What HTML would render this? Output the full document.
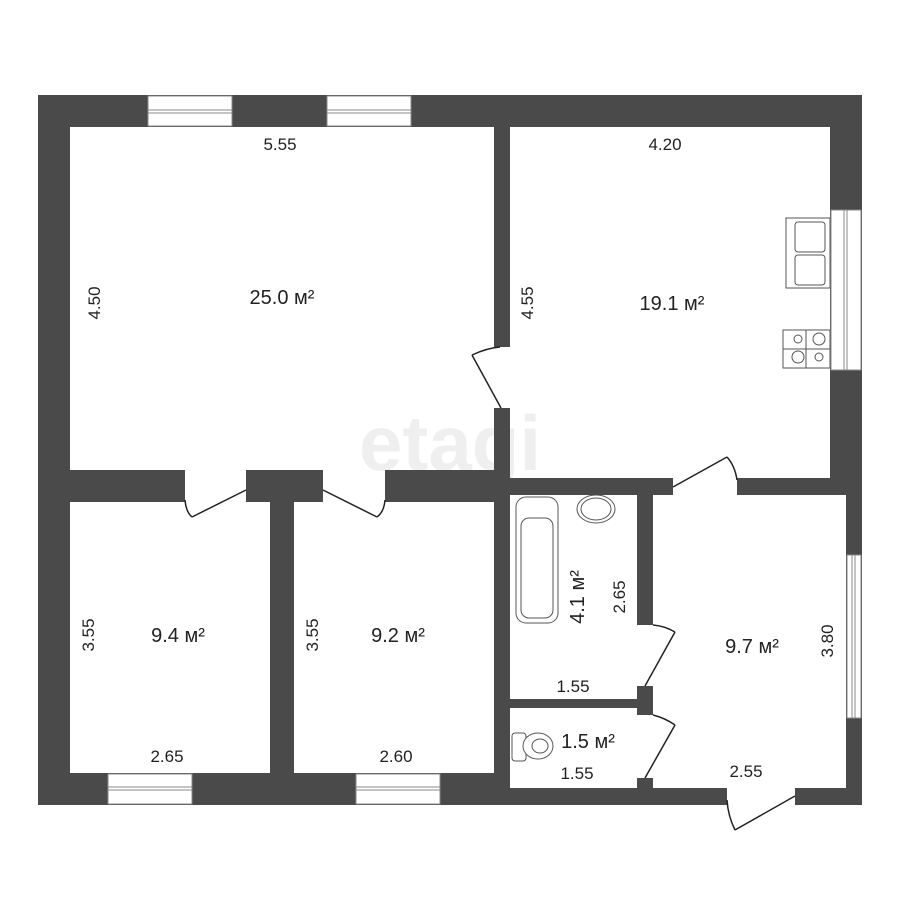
<!DOCTYPE html>
<html><head><meta charset="utf-8"><style>
html,body{margin:0;padding:0;background:#fff}
svg{display:block}
text{font-family:"Liberation Sans Narrow","Liberation Sans",sans-serif;fill:#222}
</style></head><body>
<svg width="900" height="900" viewBox="0 0 900 900" xmlns="http://www.w3.org/2000/svg">
<rect width="900" height="900" fill="#fff"/>
<text x="450" y="470" font-size="78" font-weight="bold" fill="#eeeeee" style="fill:#efefef" text-anchor="middle" font-family="Liberation Sans">etagi</text>
<g fill="#4a4a4a">
<!-- outer top -->
<rect x="38" y="95" width="824" height="32"/>
<!-- left -->
<rect x="38" y="95" width="32" height="710"/>
<!-- bottom left part -->
<rect x="38" y="773" width="472" height="32"/>
<!-- bottom right part -->
<rect x="494" y="788" width="233" height="17"/>
<rect x="795" y="788" width="67" height="17"/>
<!-- right upper -->
<rect x="830" y="95" width="32" height="400"/>
<!-- right lower -->
<rect x="846" y="478" width="16" height="327"/>
<!-- middle horizontal wall (25 room bottom) -->
<rect x="70" y="470" width="115" height="32"/>
<rect x="246" y="470" width="77" height="32"/>
<rect x="385" y="470" width="125" height="32"/>
<!-- kitchen bottom -->
<rect x="494" y="478" width="179" height="17"/>
<rect x="737" y="478" width="125" height="17"/>
<!-- partition 25/19.1 -->
<rect x="494" y="127" width="16" height="220"/>
<rect x="494" y="408" width="16" height="80"/>
<!-- wall between bedrooms -->
<rect x="270" y="490" width="24" height="300"/>
<!-- bath left wall -->
<rect x="494" y="478" width="16" height="320"/>
<!-- bath/hall wall -->
<rect x="637" y="478" width="16" height="147"/>
<rect x="637" y="686" width="16" height="29"/>
<rect x="637" y="778" width="16" height="20"/>
<!-- bath/wc wall -->
<rect x="510" y="699" width="130" height="9"/>
</g>
<!-- windows -->
<g fill="#fff" stroke="#888" stroke-width="1">
<rect x="148" y="96" width="84" height="30"/>
<rect x="327" y="96" width="84" height="30"/>
<rect x="108" y="774" width="84" height="30"/>
<rect x="356" y="774" width="84" height="30"/>
<rect x="831" y="210" width="30" height="160"/>
<rect x="847" y="555" width="14" height="163"/>
</g>
<g stroke="#888" stroke-width="1" fill="none">
<line x1="148" y1="110" x2="232" y2="110"/><line x1="148" y1="113" x2="232" y2="113"/>
<line x1="327" y1="110" x2="411" y2="110"/><line x1="327" y1="113" x2="411" y2="113"/>
<line x1="108" y1="787" x2="192" y2="787"/><line x1="108" y1="790" x2="192" y2="790"/>
<line x1="356" y1="787" x2="440" y2="787"/><line x1="356" y1="790" x2="440" y2="790"/>
<line x1="844" y1="210" x2="844" y2="370"/><line x1="847" y1="210" x2="847" y2="370"/>
<line x1="852" y1="555" x2="852" y2="718"/><line x1="855" y1="555" x2="855" y2="718"/>
</g>
<!-- doors -->
<g stroke="#222" stroke-width="1.5" fill="none">
<path d="M246 490 L192 517"/><path d="M185 500 Q186 512 192 517"/>
<path d="M323 490 L377 517"/><path d="M385 500 Q384 512 377 517"/>
<path d="M501 408 L472 355"/><path d="M472 355 Q487 348 500 347"/>
<path d="M673 487 L727 457"/><path d="M727 457 Q735 466 737 480"/>
<path d="M645 686 L675 632"/><path d="M675 632 Q665 626 653 625"/>
<path d="M645 778 L675 725"/><path d="M675 725 Q665 718 653 715"/>
<path d="M795 796 L735 830"/><path d="M735 830 Q728 816 727 800"/>
</g>
<!-- fixtures -->
<g stroke="#555" stroke-width="1" fill="#fff">
<rect x="516" y="497" width="42" height="126" rx="10"/>
<rect x="521" y="518" width="32" height="100" rx="8"/>
<ellipse cx="596" cy="509" rx="19" ry="14"/>
<ellipse cx="596" cy="509" rx="15" ry="11"/>
<rect x="512" y="733" width="14" height="28" rx="3"/>
<ellipse cx="538" cy="746" rx="15" ry="13"/>
<ellipse cx="540" cy="746" rx="8" ry="7"/>
<rect x="786" y="218" width="44" height="70"/>
<rect x="795" y="222" width="30" height="30" rx="3"/>
<rect x="795" y="255" width="30" height="30" rx="3"/>
<rect x="783" y="330" width="47" height="38"/>
<line x1="806" y1="330" x2="806" y2="368"/><line x1="783" y1="349" x2="830" y2="349"/>
<circle cx="798" cy="339" r="4"/><circle cx="819" cy="339" r="6"/>
<circle cx="798" cy="357" r="6"/><circle cx="819" cy="357" r="4"/>
</g>
<!-- labels -->
<g font-size="17">
<text x="280" y="150" text-anchor="middle">5.55</text>
<text x="665" y="150" text-anchor="middle">4.20</text>
<text x="282" y="304" text-anchor="middle" font-size="20">25.0 м²</text>
<text x="672" y="310" text-anchor="middle" font-size="20">19.1 м²</text>
<text x="178" y="642" text-anchor="middle" font-size="20">9.4 м²</text>
<text x="398" y="642" text-anchor="middle" font-size="20">9.2 м²</text>
<text x="752" y="653" text-anchor="middle" font-size="20">9.7 м²</text>
<text x="588" y="748" text-anchor="middle" font-size="20">1.5 м²</text>
<text x="167" y="762" text-anchor="middle">2.65</text>
<text x="396" y="762" text-anchor="middle">2.60</text>
<text x="573" y="692" text-anchor="middle">1.55</text>
<text x="577" y="779" text-anchor="middle">1.55</text>
<text x="746" y="777" text-anchor="middle">2.55</text>
<text transform="translate(100,303) rotate(-90)" text-anchor="middle">4.50</text>
<text transform="translate(533,303) rotate(-90)" text-anchor="middle">4.55</text>
<text transform="translate(94,635) rotate(-90)" text-anchor="middle">3.55</text>
<text transform="translate(318,635) rotate(-90)" text-anchor="middle">3.55</text>
<text transform="translate(625,597) rotate(-90)" text-anchor="middle">2.65</text>
<text transform="translate(584,597) rotate(-90)" text-anchor="middle" font-size="20">4.1 м²</text>
<text transform="translate(833,641) rotate(-90)" text-anchor="middle">3.80</text>
</g>
</svg>
</body></html>
